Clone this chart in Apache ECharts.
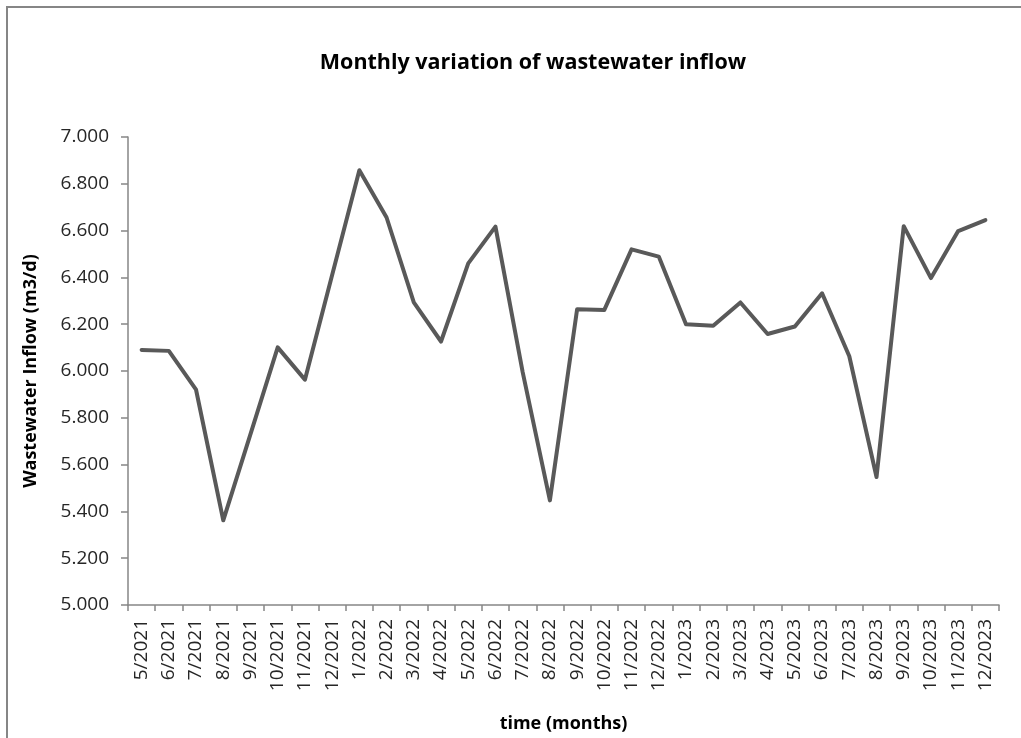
<!DOCTYPE html>
<html>
<head>
<meta charset="utf-8">
<title>Monthly variation of wastewater inflow</title>
<script src="https://cdn.jsdelivr.net/npm/echarts@6/dist/echarts.min.js"></script>
<style>
  html, body { margin: 0; padding: 0; background: #ffffff; }
  #chart { width: 1021px; height: 738px; }
</style>
</head>
<body>
<div id="chart"></div>
<script>
// Months from May 2021 to December 2023
const months = [
  '5/2021', '6/2021', '7/2021', '8/2021', '9/2021', '10/2021', '11/2021', '12/2021',
  '1/2022', '2/2022', '3/2022', '4/2022', '5/2022', '6/2022', '7/2022', '8/2022',
  '9/2022', '10/2022', '11/2022', '12/2022',
  '1/2023', '2/2023', '3/2023', '4/2023', '5/2023', '6/2023', '7/2023', '8/2023',
  '9/2023', '10/2023', '11/2023', '12/2023'
];

// Wastewater inflow in thousands of m3/d
const inflow = [
  6.090, 6.086, 5.920, 5.362, 5.730, 6.101, 5.963, 6.410,
  6.858, 6.656, 6.293, 6.126, 6.460, 6.617, 5.995, 5.447,
  6.264, 6.261, 6.520, 6.489,
  6.200, 6.193, 6.293, 6.158, 6.190, 6.332, 6.063, 5.547,
  6.619, 6.397, 6.598, 6.645
];

const yMin = 5.0;
const yMax = 7.0;
const yStep = 0.2;

const FONT = 'Open Sans';
const AXIS_GRAY = '#868686';
const TEXT = '#262626';

const chart = echarts.init(document.getElementById('chart'), null, { renderer: 'canvas' });

chart.setOption({
  backgroundColor: '#ffffff',
  animation: false,
  graphic: [{
    type: 'rect',
    shape: { x: 7, y: 7, width: 1100, height: 800 },
    style: { fill: 'none', stroke: AXIS_GRAY, lineWidth: 2 },
    silent: true
  }],
  title: {
    text: 'Monthly variation of wastewater inflow',
    left: 528,
    textAlign: 'center',
    top: 47,
    textStyle: { fontFamily: FONT, fontSize: 21.5, fontWeight: 'bold', color: '#000000' }
  },
  grid: { left: 128, right: 22, top: 137, bottom: 131, containLabel: false },
  xAxis: {
    type: 'category',
    data: months,
    boundaryGap: true,
    name: 'time (months)',
    nameLocation: 'middle',
    nameGap: 110,
    nameTextStyle: { fontFamily: FONT, fontSize: 18, fontWeight: 'bold', color: '#000000' },
    axisLine: { show: true, lineStyle: { color: AXIS_GRAY, width: 1.5 } },
    axisTick: { show: true, alignWithLabel: false, interval: 0, length: 6, lineStyle: { color: AXIS_GRAY, width: 1.5 } },
    axisLabel: {
      interval: 0, rotate: 90, margin: 14,
      fontFamily: FONT, fontSize: 19, color: TEXT
    },
    splitLine: { show: false }
  },
  yAxis: {
    type: 'value',
    min: yMin,
    max: yMax,
    interval: yStep,
    name: 'Wastewater Inflow (m3/d)',
    nameLocation: 'middle',
    nameGap: 88,
    nameTextStyle: { fontFamily: FONT, fontSize: 18, fontWeight: 'bold', color: '#000000' },
    axisLine: { show: true, lineStyle: { color: AXIS_GRAY, width: 1.5 } },
    axisTick: { show: true, length: 7, lineStyle: { color: AXIS_GRAY, width: 1.5 } },
    axisLabel: {
      margin: 19,
      fontFamily: FONT, fontSize: 19, color: TEXT,
      formatter: v => v.toFixed(3)
    },
    splitLine: { show: false }
  },
  series: [{
    type: 'line',
    data: inflow,
    symbol: 'none',
    lineStyle: { color: '#595959', width: 4, join: 'round', cap: 'round' },
    itemStyle: { color: '#595959' }
  }]
});
</script>
</body>
</html>
